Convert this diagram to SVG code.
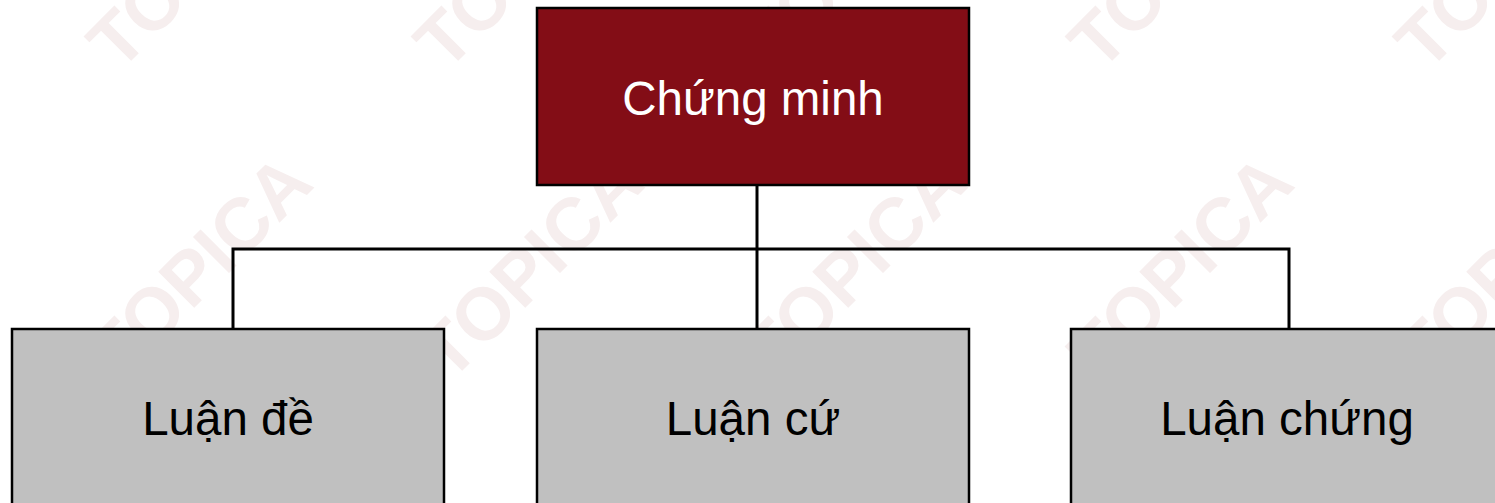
<svg xmlns="http://www.w3.org/2000/svg" width="1495" height="503" viewBox="0 0 1495 503">
  <style>
    .wm { font-family: "Liberation Sans", Arial, sans-serif; font-weight: bold; font-size: 74px; fill: #f6eeee; }
    .box { stroke: #000; stroke-width: 2.5; }
    .root { fill: #830d16; }
    .leaf { fill: #c0c0c0; }
    .lbl { font-family: "Liberation Sans", Arial, sans-serif; font-size: 47.5px; text-anchor: middle; }
    .conn { fill: none; stroke: #000; stroke-width: 3; }
  </style>
  <rect width="1495" height="503" fill="#ffffff"/>
  <g id="watermark">
    <text class="wm" x="119" y="73" transform="rotate(-45 119 73)">TOPICA</text>
    <text class="wm" x="446" y="73" transform="rotate(-45 446 73)">TOPICA</text>
    <text class="wm" x="773" y="73" transform="rotate(-45 773 73)">TOPICA</text>
    <text class="wm" x="1100" y="73" transform="rotate(-45 1100 73)">TOPICA</text>
    <text class="wm" x="1427" y="73" transform="rotate(-45 1427 73)">TOPICA</text>
    <text class="wm" x="119" y="383" transform="rotate(-45 119 383)">TOPICA</text>
    <text class="wm" x="450" y="383" transform="rotate(-45 450 383)">TOPICA</text>
    <text class="wm" x="773" y="383" transform="rotate(-45 773 383)">TOPICA</text>
    <text class="wm" x="1100" y="383" transform="rotate(-45 1100 383)">TOPICA</text>
    <text class="wm" x="1427" y="383" transform="rotate(-45 1427 383)">TOPICA</text>
  </g>
  <g id="connectors">
    <path class="conn" d="M757 185 V249"/>
    <path class="conn" d="M233 329 V249 H1289 V329"/>
    <path class="conn" d="M757 249 V329"/>
  </g>
  <g id="chung-minh">
    <rect class="box root" x="537" y="8" width="432" height="177"/>
    <text class="lbl" x="753" y="115" fill="#ffffff">Chứng minh</text>
  </g>
  <g id="luan-de">
    <rect class="box leaf" x="12" y="329" width="432" height="180"/>
    <text class="lbl" x="228" y="435" fill="#000000">Luận đề</text>
  </g>
  <g id="luan-cu">
    <rect class="box leaf" x="537" y="329" width="432" height="180"/>
    <text class="lbl" x="753" y="435" fill="#000000">Luận cứ</text>
  </g>
  <g id="luan-chung">
    <rect class="box leaf" x="1071" y="329" width="432" height="180"/>
    <text class="lbl" x="1287" y="435" fill="#000000">Luận chứng</text>
  </g>
</svg>
